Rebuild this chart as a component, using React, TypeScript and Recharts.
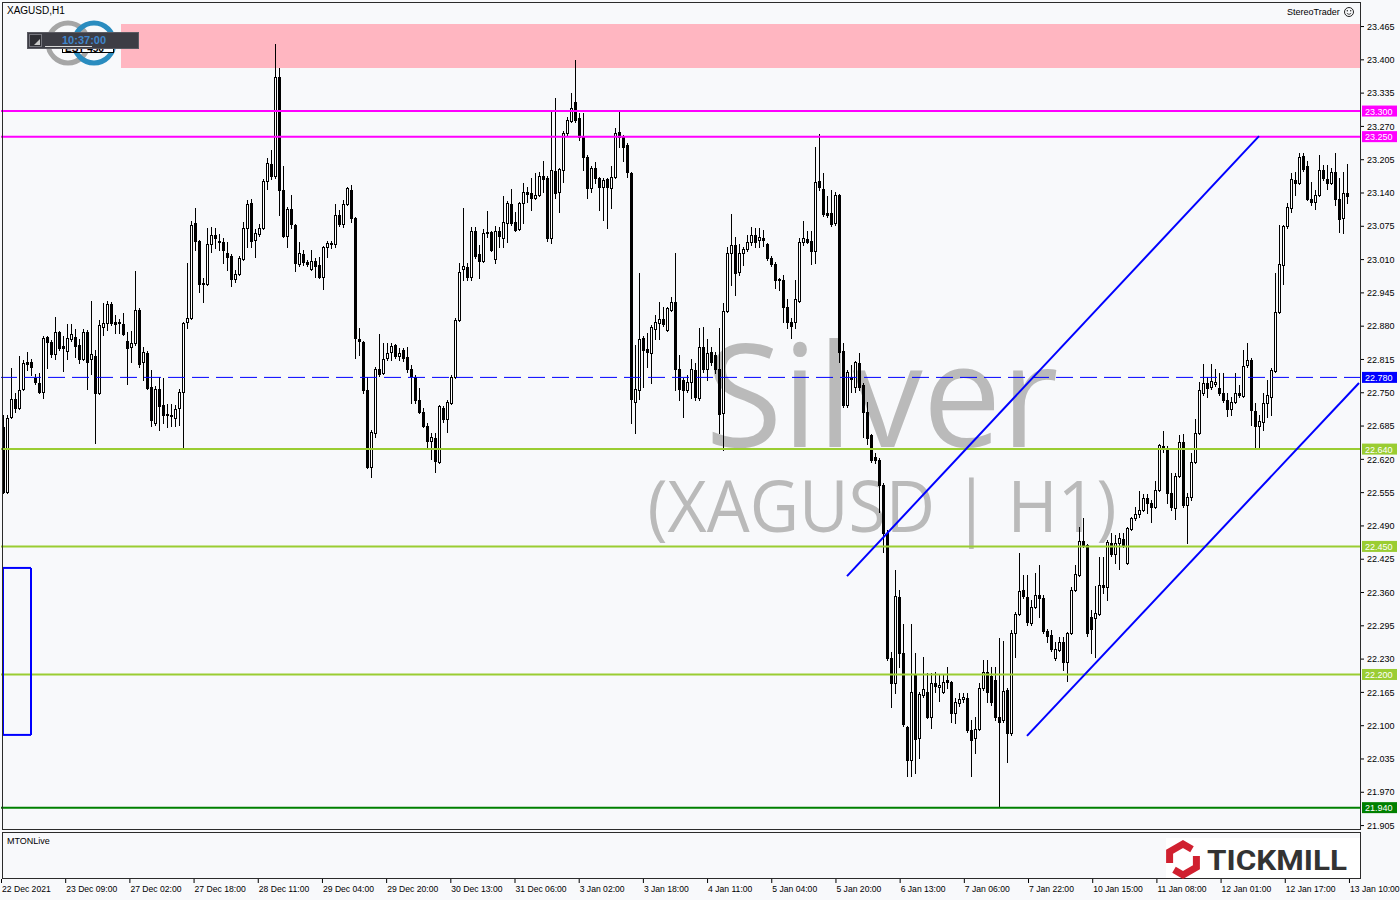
import React from "react";
import {
  ComposedChart,
  Bar,
  Line,
  XAxis,
  YAxis,
  ReferenceLine,
  ReferenceArea,
} from "recharts";

// XAGUSD H1 candles (22 Dec 2021 -> 13 Jan 2022)
const opens = [
  22.683, 22.556, 22.703, 22.738, 22.720, 22.757, 22.810, 22.810, 22.779, 22.769,
  22.752, 22.859, 22.849, 22.826, 22.869, 22.841, 22.832, 22.855, 22.859, 22.843,
  22.816, 22.869, 22.816, 22.822, 22.750, 22.878, 22.886, 22.923, 22.888, 22.888,
  22.884, 22.851, 22.839, 22.847, 22.912, 22.810, 22.828, 22.761, 22.691, 22.757,
  22.726, 22.709, 22.707, 22.701, 22.720, 22.752, 22.888, 22.896, 23.081, 23.046,
  22.964, 22.962, 23.040, 23.058, 23.046, 23.044, 23.023, 23.017, 22.972, 22.982,
  23.011, 23.072, 23.120, 23.048, 23.060, 23.072, 23.163, 23.197, 23.173, 23.367,
  23.146, 23.056, 23.109, 23.078, 23.001, 23.021, 23.005, 22.992, 23.007, 22.999,
  22.976, 23.035, 23.042, 23.040, 23.097, 23.080, 23.119, 23.146, 23.091, 22.855,
  22.849, 22.755, 22.605, 22.671, 22.796, 22.789, 22.818, 22.830, 22.843, 22.822,
  22.834, 22.820, 22.796, 22.781, 22.736, 22.712, 22.685, 22.656, 22.662, 22.615,
  22.720, 22.699, 22.730, 22.781, 22.892, 22.992, 22.995, 22.976, 23.066, 23.021,
  23.007, 23.064, 23.064, 23.011, 23.066, 23.052, 23.081, 23.119, 23.083, 23.070,
  23.120, 23.142, 23.140, 23.130, 23.136, 23.173, 23.169, 23.052, 23.183, 23.142,
  23.185, 23.257, 23.280, 23.318, 23.286, 23.251, 23.210, 23.150, 23.189, 23.169,
  23.152, 23.167, 23.150, 23.171, 23.259, 23.249, 23.234, 23.179, 22.732, 22.755,
  22.857, 22.836, 22.828, 22.874, 22.886, 22.894, 22.873, 22.912, 22.927, 22.796,
  22.775, 22.755, 22.771, 22.794, 22.740, 22.839, 22.796, 22.830, 22.824, 22.796,
  22.710, 22.910, 23.023, 23.039, 22.986, 23.023, 23.031, 23.044, 23.058, 23.048,
  23.052, 23.040, 23.013, 23.001, 22.972, 22.970, 22.917, 22.888, 22.888, 22.929,
  23.044, 23.050, 23.046, 23.027, 23.163, 23.148, 23.101, 23.101, 23.081, 23.136,
  22.832, 22.726, 22.781, 22.761, 22.808, 22.765, 22.712, 22.667, 22.624, 22.619,
  22.570, 22.476, 22.232, 22.183, 22.351, 22.242, 22.097, 22.033, 22.201, 22.076,
  22.160, 22.166, 22.117, 22.183, 22.176, 22.166, 22.189, 22.185, 22.125, 22.144,
  22.152, 22.154, 22.092, 22.076, 22.093, 22.174, 22.205, 22.197, 22.189, 22.117,
  22.111, 22.170, 22.086, 22.281, 22.318, 22.365, 22.351, 22.300, 22.332, 22.355,
  22.349, 22.285, 22.277, 22.232, 22.248, 22.263, 22.224, 22.281, 22.365, 22.394,
  22.461, 22.453, 22.312, 22.310, 22.318, 22.375, 22.371, 22.457, 22.435, 22.457,
  22.464, 22.418, 22.484, 22.505, 22.513, 22.521, 22.544, 22.535, 22.527, 22.560,
  22.646, 22.642, 22.554, 22.525, 22.587, 22.654, 22.531, 22.546, 22.615, 22.671,
  22.750, 22.769, 22.761, 22.767, 22.759, 22.750, 22.736, 22.718, 22.732, 22.750,
  22.744, 22.804, 22.814, 22.714, 22.685, 22.693, 22.730, 22.742, 22.792, 22.908,
  22.999, 23.076, 23.111, 23.165, 23.160, 23.212, 23.193, 23.128, 23.122, 23.136,
  23.185, 23.167, 23.160, 23.181, 23.128, 23.091, 23.140,
];
const highs = [
  22.707, 22.707, 22.798, 22.750, 22.822, 22.814, 22.830, 22.816, 22.787, 22.789,
  22.861, 22.861, 22.853, 22.898, 22.871, 22.861, 22.884, 22.884, 22.874, 22.855,
  22.874, 22.873, 22.929, 22.834, 22.892, 22.925, 22.929, 22.927, 22.902, 22.894,
  22.906, 22.869, 22.871, 22.988, 22.916, 22.839, 22.832, 22.794, 22.763, 22.781,
  22.779, 22.728, 22.728, 22.726, 22.757, 22.888, 23.003, 23.085, 23.111, 23.048,
  22.974, 23.072, 23.074, 23.072, 23.060, 23.052, 23.044, 23.021, 22.990, 23.017,
  23.083, 23.126, 23.128, 23.070, 23.080, 23.167, 23.208, 23.224, 23.431, 23.384,
  23.193, 23.113, 23.136, 23.080, 23.044, 23.029, 23.009, 23.029, 23.013, 23.015,
  23.037, 23.046, 23.046, 23.119, 23.107, 23.126, 23.152, 23.156, 23.093, 22.876,
  22.851, 22.781, 22.677, 22.800, 22.865, 22.847, 22.847, 22.847, 22.845, 22.837,
  22.837, 22.839, 22.804, 22.785, 22.759, 22.720, 22.691, 22.671, 22.671, 22.726,
  22.724, 22.736, 22.785, 22.896, 23.003, 23.111, 23.003, 23.074, 23.074, 23.039,
  23.070, 23.105, 23.066, 23.076, 23.074, 23.134, 23.124, 23.148, 23.103, 23.122,
  23.160, 23.152, 23.169, 23.179, 23.181, 23.202, 23.173, 23.300, 23.325, 23.189,
  23.261, 23.288, 23.335, 23.400, 23.296, 23.296, 23.214, 23.193, 23.200, 23.171,
  23.169, 23.169, 23.193, 23.267, 23.298, 23.253, 23.238, 23.181, 22.843, 22.984,
  22.861, 22.867, 22.882, 22.902, 22.927, 22.917, 22.917, 22.937, 23.023, 22.824,
  22.779, 22.785, 22.816, 22.808, 22.876, 22.878, 22.855, 22.839, 22.830, 22.876,
  22.925, 23.035, 23.099, 23.054, 23.040, 23.035, 23.058, 23.074, 23.072, 23.072,
  23.068, 23.042, 23.017, 23.005, 22.974, 22.980, 22.933, 22.896, 22.970, 23.052,
  23.085, 23.066, 23.066, 23.230, 23.255, 23.179, 23.134, 23.146, 23.142, 23.138,
  22.847, 22.794, 22.804, 22.812, 22.828, 22.769, 22.732, 22.669, 22.632, 22.623,
  22.574, 22.482, 22.244, 22.404, 22.365, 22.299, 22.099, 22.299, 22.242, 22.166,
  22.234, 22.203, 22.203, 22.205, 22.199, 22.201, 22.215, 22.187, 22.154, 22.164,
  22.164, 22.164, 22.111, 22.117, 22.183, 22.228, 22.228, 22.215, 22.215, 22.271,
  22.265, 22.174, 22.287, 22.322, 22.437, 22.394, 22.394, 22.345, 22.398, 22.414,
  22.355, 22.289, 22.287, 22.263, 22.273, 22.273, 22.283, 22.371, 22.414, 22.488,
  22.505, 22.455, 22.326, 22.373, 22.429, 22.429, 22.463, 22.476, 22.472, 22.476,
  22.476, 22.488, 22.507, 22.527, 22.558, 22.552, 22.552, 22.541, 22.578, 22.650,
  22.675, 22.646, 22.593, 22.593, 22.667, 22.669, 22.554, 22.632, 22.699, 22.771,
  22.806, 22.781, 22.806, 22.796, 22.789, 22.789, 22.750, 22.742, 22.789, 22.765,
  22.834, 22.847, 22.818, 22.730, 22.707, 22.750, 22.775, 22.798, 22.984, 23.078,
  23.078, 23.120, 23.179, 23.181, 23.218, 23.218, 23.202, 23.161, 23.146, 23.214,
  23.195, 23.195, 23.189, 23.218, 23.169, 23.181, 23.197,
];
const lows = [
  22.554, 22.554, 22.701, 22.712, 22.718, 22.755, 22.794, 22.785, 22.767, 22.750,
  22.740, 22.798, 22.820, 22.816, 22.834, 22.792, 22.816, 22.851, 22.820, 22.808,
  22.814, 22.757, 22.787, 22.652, 22.748, 22.863, 22.873, 22.882, 22.867, 22.867,
  22.863, 22.767, 22.810, 22.843, 22.800, 22.775, 22.757, 22.685, 22.687, 22.677,
  22.691, 22.683, 22.685, 22.685, 22.687, 22.642, 22.876, 22.894, 23.029, 22.947,
  22.927, 22.960, 23.025, 23.033, 23.029, 23.003, 22.990, 22.958, 22.966, 22.980,
  23.009, 23.035, 23.035, 23.015, 23.056, 23.070, 23.148, 23.167, 23.170, 23.097,
  23.054, 23.035, 23.072, 22.988, 22.997, 22.999, 22.997, 22.990, 22.976, 22.974,
  22.953, 23.015, 23.033, 23.035, 23.076, 23.074, 23.117, 23.083, 22.818, 22.824,
  22.750, 22.603, 22.586, 22.664, 22.783, 22.787, 22.814, 22.814, 22.818, 22.814,
  22.812, 22.791, 22.730, 22.730, 22.710, 22.683, 22.644, 22.621, 22.595, 22.613,
  22.693, 22.673, 22.728, 22.779, 22.890, 22.970, 22.970, 22.970, 23.013, 22.974,
  23.005, 23.054, 23.027, 23.003, 23.035, 23.035, 23.044, 23.078, 23.066, 23.068,
  23.081, 23.122, 23.107, 23.128, 23.134, 23.142, 23.046, 23.042, 23.130, 23.103,
  23.161, 23.253, 23.278, 23.278, 23.243, 23.185, 23.130, 23.142, 23.160, 23.107,
  23.087, 23.072, 23.111, 23.169, 23.230, 23.202, 23.171, 22.691, 22.671, 22.738,
  22.761, 22.800, 22.769, 22.855, 22.855, 22.880, 22.871, 22.910, 22.755, 22.736,
  22.703, 22.752, 22.740, 22.736, 22.736, 22.791, 22.775, 22.804, 22.789, 22.671,
  22.638, 22.908, 22.960, 22.941, 22.980, 22.999, 23.027, 23.039, 23.035, 23.035,
  23.037, 23.009, 22.997, 22.955, 22.951, 22.888, 22.876, 22.857, 22.876, 22.927,
  23.039, 23.042, 23.001, 23.003, 23.146, 23.095, 23.093, 23.076, 23.078, 22.810,
  22.722, 22.722, 22.752, 22.752, 22.755, 22.664, 22.650, 22.615, 22.613, 22.517,
  22.439, 22.228, 22.136, 22.164, 22.215, 22.099, 22.002, 22.002, 22.008, 22.037,
  22.156, 22.115, 22.095, 22.166, 22.148, 22.164, 22.174, 22.107, 22.105, 22.138,
  22.146, 22.088, 22.002, 22.047, 22.092, 22.170, 22.146, 22.140, 22.111, 21.941,
  22.107, 22.029, 22.082, 22.234, 22.316, 22.349, 22.297, 22.297, 22.330, 22.312,
  22.281, 22.263, 22.246, 22.228, 22.246, 22.209, 22.187, 22.279, 22.363, 22.392,
  22.449, 22.275, 22.242, 22.234, 22.316, 22.359, 22.345, 22.431, 22.418, 22.406,
  22.449, 22.416, 22.482, 22.502, 22.507, 22.519, 22.515, 22.498, 22.525, 22.558,
  22.634, 22.535, 22.521, 22.503, 22.586, 22.527, 22.457, 22.541, 22.613, 22.669,
  22.746, 22.742, 22.757, 22.763, 22.746, 22.732, 22.705, 22.707, 22.730, 22.742,
  22.742, 22.800, 22.687, 22.642, 22.642, 22.677, 22.703, 22.707, 22.791, 22.906,
  22.962, 23.072, 23.103, 23.136, 23.158, 23.183, 23.126, 23.117, 23.109, 23.134,
  23.165, 23.148, 23.158, 23.117, 23.064, 23.062, 23.120,
];
const closes = [
  22.556, 22.701, 22.738, 22.720, 22.755, 22.808, 22.806, 22.800, 22.771, 22.752,
  22.857, 22.849, 22.826, 22.869, 22.837, 22.837, 22.857, 22.865, 22.841, 22.816,
  22.869, 22.810, 22.826, 22.750, 22.882, 22.886, 22.923, 22.886, 22.884, 22.886,
  22.865, 22.837, 22.847, 22.912, 22.806, 22.830, 22.759, 22.697, 22.757, 22.724,
  22.707, 22.707, 22.705, 22.718, 22.752, 22.886, 22.896, 23.078, 23.046, 22.962,
  22.962, 23.040, 23.058, 23.052, 23.044, 23.029, 23.015, 22.972, 22.982, 23.013,
  23.072, 23.119, 23.046, 23.062, 23.072, 23.163, 23.199, 23.173, 23.367, 23.146,
  23.056, 23.109, 23.080, 23.003, 23.023, 23.005, 23.001, 23.007, 22.997, 22.976,
  23.035, 23.042, 23.040, 23.097, 23.080, 23.119, 23.150, 23.091, 22.857, 22.851,
  22.755, 22.605, 22.673, 22.796, 22.787, 22.816, 22.828, 22.841, 22.822, 22.828,
  22.818, 22.796, 22.783, 22.736, 22.712, 22.685, 22.656, 22.664, 22.617, 22.724,
  22.699, 22.732, 22.781, 22.892, 22.986, 22.997, 22.976, 23.066, 23.017, 23.007,
  23.062, 23.062, 23.029, 23.066, 23.056, 23.083, 23.120, 23.081, 23.068, 23.120,
  23.142, 23.138, 23.130, 23.136, 23.173, 23.167, 23.052, 23.185, 23.140, 23.187,
  23.257, 23.282, 23.306, 23.282, 23.249, 23.210, 23.150, 23.189, 23.169, 23.152,
  23.165, 23.152, 23.171, 23.257, 23.249, 23.230, 23.181, 22.738, 22.757, 22.855,
  22.834, 22.830, 22.878, 22.888, 22.894, 22.884, 22.916, 22.927, 22.796, 22.757,
  22.755, 22.771, 22.796, 22.742, 22.839, 22.796, 22.828, 22.810, 22.796, 22.709,
  22.910, 23.023, 23.039, 22.984, 23.023, 23.031, 23.044, 23.058, 23.044, 23.054,
  23.048, 23.013, 23.001, 22.970, 22.970, 22.917, 22.888, 22.880, 22.933, 23.044,
  23.052, 23.044, 23.027, 23.161, 23.152, 23.099, 23.097, 23.080, 23.136, 22.830,
  22.726, 22.791, 22.777, 22.810, 22.761, 22.712, 22.662, 22.619, 22.619, 22.570,
  22.476, 22.232, 22.183, 22.353, 22.242, 22.103, 22.033, 22.166, 22.074, 22.162,
  22.172, 22.117, 22.183, 22.178, 22.180, 22.185, 22.185, 22.125, 22.146, 22.152,
  22.156, 22.092, 22.072, 22.093, 22.174, 22.205, 22.166, 22.146, 22.117, 22.107,
  22.168, 22.086, 22.281, 22.318, 22.363, 22.353, 22.302, 22.332, 22.355, 22.349,
  22.285, 22.275, 22.250, 22.250, 22.263, 22.224, 22.281, 22.365, 22.396, 22.461,
  22.453, 22.281, 22.289, 22.320, 22.375, 22.371, 22.459, 22.435, 22.457, 22.466,
  22.453, 22.486, 22.505, 22.513, 22.521, 22.544, 22.535, 22.527, 22.560, 22.648,
  22.642, 22.554, 22.527, 22.587, 22.654, 22.531, 22.546, 22.615, 22.671, 22.755,
  22.769, 22.759, 22.773, 22.771, 22.750, 22.736, 22.718, 22.732, 22.750, 22.746,
  22.802, 22.814, 22.716, 22.685, 22.695, 22.730, 22.746, 22.794, 22.908, 23.001,
  23.076, 23.113, 23.167, 23.160, 23.210, 23.187, 23.128, 23.122, 23.136, 23.185,
  23.169, 23.160, 23.181, 23.128, 23.089, 23.140, 23.134,
];

const timeLabels = [
  "22 Dec 2021", "23 Dec 09:00", "27 Dec 02:00", "27 Dec 18:00", "28 Dec 11:00",
  "29 Dec 04:00", "29 Dec 20:00", "30 Dec 13:00", "31 Dec 06:00", "3 Jan 02:00",
  "3 Jan 18:00", "4 Jan 11:00", "5 Jan 04:00", "5 Jan 20:00", "6 Jan 13:00",
  "7 Jan 06:00", "7 Jan 22:00", "10 Jan 15:00", "11 Jan 08:00", "12 Jan 01:00",
  "12 Jan 17:00", "13 Jan 10:00",
];
const timeTickBars = [
  0, 16, 32, 48, 64, 80, 96, 112, 128, 144, 160, 176, 192, 208, 224, 240, 256,
  272, 288, 304, 320, 336,
];
const priceTicks = [
  23.465, 23.4, 23.335, 23.27, 23.205, 23.14, 23.075, 23.01, 22.945, 22.88,
  22.815, 22.75, 22.685, 22.62, 22.555, 22.49, 22.425, 22.36, 22.295, 22.23,
  22.165, 22.1, 22.035, 21.97, 21.905,
];

// drawn objects
const zonePrices = [23.384, 23.47];
const zoneFromBar = 30;
const magentaLevels = [23.3, 23.25];
const greenLevels = [22.64, 22.45, 22.2];
const pivotLevel = 22.78;
const lowLevel = 21.94;
const channelUpper = [{ x: 211, y: 22.392 }, { x: 314, y: 23.251 }];
const channelLower = [{ x: 256, y: 22.08 }, { x: 339, y: 22.769 }];
const boxBars = [0, 7];
const boxPrices = [22.408, 22.082];

const SLOTS = 340; // 337 candles + right shift
const candles = Array.from({ length: SLOTS }, (_, i) => ({
  idx: i,
  open: opens[i],
  high: highs[i],
  low: lows[i],
  close: closes[i],
}));

const BG = "#f8f9fb";
const SMALL = "'Liberation Sans', Arial, sans-serif";

function Candle(props: any) {
  const { x, y, width, height, payload } = props;
  if (!payload || payload.open == null || y == null) return <g />;
  const { open, high, low, close } = payload;
  const top = Math.min(y, y + height);
  const h = Math.abs(height);
  const span = high - low || 1;
  const toPx = (v: number) => Math.round(top + ((high - v) / span) * h);
  const cx = Math.floor(x + width / 2 + 0.01);
  const yH = toPx(high);
  const yL = toPx(low);
  const yO = toPx(open);
  const yC = toPx(close);
  const tb = Math.min(yO, yC);
  const bb = Math.max(yO, yC);
  const bull = close > open;
  return (
    <g shapeRendering="crispEdges">
      <line x1={cx + 0.5} x2={cx + 0.5} y1={yH} y2={yL + 1} stroke="#000" strokeWidth={1} />
      {bull && bb - tb >= 2 ? (
        <rect x={cx - 0.5} y={tb + 0.5} width={2} height={bb - tb} fill="#fff" stroke="#000" strokeWidth={1} />
      ) : (
        <rect x={cx - 1} y={tb} width={3} height={bb - tb + 1} fill="#000" />
      )}
    </g>
  );
}

function PriceTag(props: any) {
  const { viewBox, tagColor, tagText } = props;
  if (!viewBox) return null;
  const x = viewBox.x + viewBox.width + 1;
  const y = viewBox.y;
  return (
    <g>
      <rect x={x} y={y - 5.5} width={35} height={11} fill={tagColor} />
      <text x={x + 3} y={y + 3.5} fontSize={9} fill="#fff" fontFamily={SMALL}>
        {tagText}
      </text>
    </g>
  );
}

function TimeTick(props: any) {
  const { x, y, payload } = props;
  const label = timeLabels[timeTickBars.indexOf(payload.value)];
  return (
    <g>
      <line x1={x + 0.5} x2={x + 0.5} y1={y + 1} y2={y + 5} stroke="#000" />
      <text x={x + 1} y={y + 14} fontSize={8.6} fill="#000" fontFamily={SMALL}>
        {label}
      </text>
    </g>
  );
}

function Watermark() {
  return (
    <svg width={1400} height={900} style={{ position: "absolute", left: 0, top: 0 }}>
      <text
        x={882}
        y={447}
        textAnchor="middle"
        fontSize={143}
        fontFamily="'Open Sans', 'Noto Sans', sans-serif"
        fill="#bababa"
        textLength={353}
        lengthAdjust="spacingAndGlyphs"
      >
        Silver
      </text>
      <text
        x={882}
        y={532}
        textAnchor="middle"
        fontSize={72}
        fontFamily="'Open Sans', 'Noto Sans', sans-serif"
        fill="#bababa"
        textLength={469}
        lengthAdjust="spacingAndGlyphs"
      >
        (XAGUSD | H1)
      </text>
    </svg>
  );
}

function Overlay() {
  return (
    <svg
      width={1400}
      height={900}
      style={{ position: "absolute", left: 0, top: 0, pointerEvents: "none" }}
    >
      <text x={7} y={14} fontSize={10} fill="#000" fontFamily={SMALL}>
        XAGUSD,H1
      </text>
      {/* broker logo + countdown box */}
      <circle cx={68} cy={43} r={20} fill="none" stroke="#a6a6a6" strokeWidth={5} />
      <circle cx={94} cy={43} r={20} fill="none" stroke="#2a8cbf" strokeWidth={5} />
      <rect x={62.5} y={41.5} width={51} height={11} fill="#fff" stroke="#000" />
      <text x={65} y={52} fontSize={10} fontWeight={700} fill="#000" fontFamily={SMALL}>
        EST 456
      </text>
      <rect x={27.5} y={32.5} width={111} height={16} fill="#3d3d45" stroke="#5a5a62" />
      <rect x={29.5} y={34.5} width={12} height={12} fill="#2e2e34" stroke="#76767e" />
      <polygon points="34,45 40,45 40,39" fill="#c8c8c8" />
      <text x={62} y={44} fontSize={11} fontWeight={700} fill="#3f86cc" fontFamily={SMALL}>
        10:37:00
      </text>
      <line x1={45} x2={92} y1={46.5} y2={46.5} stroke="#d8d8d8" />
      {/* StereoTrader tag */}
      <text x={1287} y={15} fontSize={9} fill="#000" fontFamily={SMALL}>
        StereoTrader
      </text>
      <circle cx={1349} cy={12} r={4.5} fill="none" stroke="#222" />
      <circle cx={1347.3} cy={10.8} r={0.7} fill="#222" />
      <circle cx={1350.7} cy={10.8} r={0.7} fill="#222" />
      <path d="M1346.8 13.3 Q1349 15.6 1351.2 13.3" fill="none" stroke="#222" strokeWidth={0.8} />
      {/* indicator window name */}
      <text x={7} y={844} fontSize={9} fill="#000" fontFamily={SMALL}>
        MTONLive
      </text>
      {/* Tickmill logo */}
      <rect x={1166} y={838} width={194} height={40} fill="#fff" />
      <path
        d="M1169.6 863 L1169.6 851.75 L1183 844 L1192 849.2"
        fill="none"
        stroke="#d0202f"
        strokeWidth={7}
      />
      <path
        d="M1196.4 856 L1196.4 867.25 L1183 875 L1174 869.8"
        fill="none"
        stroke="#d0202f"
        strokeWidth={7}
      />
      <text
        x={1207}
        y={870}
        fontSize={28}
        fontWeight={700}
        fill="#333"
        fontFamily="Roboto, 'Open Sans', sans-serif"
        textLength={140}
        lengthAdjust="spacingAndGlyphs"
      >
        TICKMILL
      </text>
    </svg>
  );
}

export default function App() {
  const candleKey = (d: any) => (d.high == null ? null : [d.low, d.high]);
  return (
    <div
      style={{
        position: "relative",
        width: 1400,
        height: 900,
        background: BG,
        overflow: "hidden",
        fontFamily: SMALL,
      }}
    >
      <style>{"body{margin:0}"}</style>
      <Watermark />

      <div style={{ position: "absolute", left: 0, top: 0 }}>
        <ComposedChart
          width={1400}
          height={832}
          data={candles}
          margin={{ top: 2, right: 0, bottom: 3, left: 1 }}
        >
          <XAxis dataKey="idx" type="category" hide />
          <YAxis
            orientation="right"
            type="number"
            width={39}
            domain={[21.8983, 23.5129]}
            allowDataOverflow
            ticks={priceTicks}
            interval={0}
            tickFormatter={(v: number) => v.toFixed(3)}
            axisLine={false}
            tickLine={{ stroke: "#000" }}
            tickSize={3}
            tickMargin={3}
            tick={{ fill: "#000", fontSize: 9, fontFamily: SMALL }}
          />
          <ReferenceArea
            x1={zoneFromBar}
            y1={zonePrices[0]}
            y2={zonePrices[1]}
            fill="#ffb6c1"
            fillOpacity={1}
            stroke="none"
          />
          <Bar
            dataKey={candleKey}
            barSize={3}
            shape={(p: any) => <Candle {...p} />}
            isAnimationActive={false}
          />
          {magentaLevels.map((v) => (
            <ReferenceLine
              key={v}
              y={v}
              stroke="#ff00ff"
              strokeWidth={2}
              label={<PriceTag tagColor="#ff00ff" tagText={v.toFixed(3)} />}
            />
          ))}
          {greenLevels.map((v) => (
            <ReferenceLine
              key={v}
              y={v}
              stroke="#9acd32"
              strokeWidth={2}
              label={<PriceTag tagColor="#9acd32" tagText={v.toFixed(3)} />}
            />
          ))}
          <ReferenceLine
            y={pivotLevel}
            stroke="#0000ff"
            strokeDasharray="17 7"
            label={<PriceTag tagColor="#0000ff" tagText={pivotLevel.toFixed(3)} />}
          />
          <ReferenceLine
            y={lowLevel}
            stroke="#008000"
            strokeWidth={2}
            label={<PriceTag tagColor="#008000" tagText={lowLevel.toFixed(3)} />}
          />
          <ReferenceLine segment={channelUpper} stroke="#0000ff" strokeWidth={2} />
          <ReferenceLine segment={channelLower} stroke="#0000ff" strokeWidth={2} />
          <ReferenceLine
            segment={[{ x: boxBars[0], y: boxPrices[0] }, { x: boxBars[1], y: boxPrices[0] }]}
            stroke="#0000ff"
            strokeWidth={2}
          />
          <ReferenceLine
            segment={[{ x: boxBars[1], y: boxPrices[0] }, { x: boxBars[1], y: boxPrices[1] }]}
            stroke="#0000ff"
            strokeWidth={2}
          />
          <ReferenceLine
            segment={[{ x: boxBars[0], y: boxPrices[1] }, { x: boxBars[1], y: boxPrices[1] }]}
            stroke="#0000ff"
            strokeWidth={2}
          />
          <ReferenceLine
            segment={[{ x: boxBars[0], y: boxPrices[0] }, { x: boxBars[0], y: boxPrices[1] }]}
            stroke="#0000ff"
            strokeWidth={2}
          />
        </ComposedChart>
      </div>

      <div style={{ position: "absolute", left: 0, top: 829 }}>
        <ComposedChart
          width={1400}
          height={71}
          data={candles}
          margin={{ top: 3, right: 0, bottom: 0, left: 1 }}
        >
          <XAxis
            dataKey="idx"
            type="category"
            ticks={timeTickBars}
            interval={0}
            height={22}
            axisLine={false}
            tickLine={false}
            tickSize={0}
            tickMargin={0}
            tick={(p: any) => <TimeTick {...p} />}
          />
          <YAxis
            orientation="right"
            type="number"
            width={39}
            domain={[-0.15, 1.15]}
            ticks={[0, 1]}
            interval={0}
            tickFormatter={() => "0"}
            axisLine={false}
            tickLine={{ stroke: "#000" }}
            tickSize={3}
            tickMargin={3}
            tick={{ fill: "#000", fontSize: 9, fontFamily: SMALL }}
          />
          <Line dataKey="mton" stroke="#1e90ff" dot={false} isAnimationActive={false} />
        </ComposedChart>
      </div>

      {/* window frames */}
      <div
        style={{
          position: "absolute",
          left: 2,
          top: 2,
          width: 1359,
          height: 828,
          border: "1px solid #2b2b2b",
          boxSizing: "border-box",
          pointerEvents: "none",
        }}
      />
      <div
        style={{
          position: "absolute",
          left: 2,
          top: 832,
          width: 1359,
          height: 47,
          border: "1px solid #2b2b2b",
          boxSizing: "border-box",
          pointerEvents: "none",
        }}
      />
      <Overlay />
    </div>
  );
}
